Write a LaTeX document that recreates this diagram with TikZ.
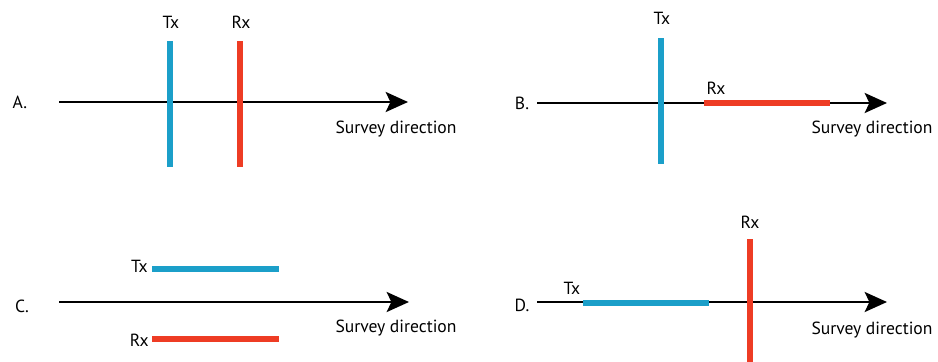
\documentclass[tikz,border=0pt]{standalone}
\usepackage{fontspec}
\setmainfont{PT Sans}
\usetikzlibrary{arrows.meta}

\definecolor{txblue}{RGB}{27,159,201}
\definecolor{rxred}{RGB}{238,60,36}

\tikzset{
  axis/.style={line width=2.4pt,-{Stealth[length=19pt,width=17pt,inset=4pt]}},
  txline/.style={txblue,line width=4.3pt},
  rxline/.style={rxred,line width=4.3pt},
  lbl/.style={inner sep=0pt,font=\fontsize{15}{18}\selectfont},
}

\begin{document}
\begin{tikzpicture}[x=0.03cm,y=-0.03cm]
\useasboundingbox (0,0) rectangle (938,362);
% A.
\node[lbl] (labA) at (20,102) {A.};
\coordinate (aS) at (59,102);
\coordinate (aE) at (408,102);
\draw[axis] (aS) -- (aE);
\coordinate (aTxT) at (170,41);
\coordinate (aTxB) at (170,167);
\coordinate (aRxT) at (240,41);
\coordinate (aRxB) at (240,167);
\draw[txline] (aTxT) -- (aTxB);
\draw[rxline] (aRxT) -- (aRxB);
\node[lbl] (aTx) at (171,22) {Tx};
\node[lbl] (aRx) at (241,22) {Rx};
\node[lbl] (aDir) at (396,129) {Survey direction};
% B.
\node[lbl] (labB) at (522,103) {B.};
\coordinate (bS) at (537,103);
\coordinate (bE) at (887,103);
\draw[axis] (bS) -- (bE);
\coordinate (bTxT) at (661,38);
\coordinate (bTxB) at (661,164);
\coordinate (bRxL) at (704,103);
\coordinate (bRxR) at (830,103);
\draw[txline] (bTxT) -- (bTxB);
\draw[rxline] (bRxL) -- (bRxR);
\node[lbl] (bTx) at (662,18) {Tx};
\node[lbl] (bRx) at (716,88) {Rx};
\node[lbl] (bDir) at (872,129) {Survey direction};
% C.
\node[lbl] (labC) at (22,306) {C.};
\coordinate (cS) at (59,302);
\coordinate (cE) at (409,302);
\draw[axis] (cS) -- (cE);
\coordinate (cTxL) at (152,269);
\coordinate (cTxR) at (279,269);
\coordinate (cRxL) at (152,339);
\coordinate (cRxR) at (279,339);
\draw[txline] (cTxL) -- (cTxR);
\draw[rxline] (cRxL) -- (cRxR);
\node[lbl,anchor=east] (cTx) at (148,266) {Tx};
\node[lbl,anchor=east] (cRx) at (149,340) {Rx};
\node[lbl] (cDir) at (396,328) {Survey direction};
% D.
\node[lbl] (labD) at (522,305) {D.};
\coordinate (dS) at (537,302);
\coordinate (dE) at (887,302);
\draw[axis] (dS) -- (dE);
\coordinate (dTxL) at (583,303);
\coordinate (dTxR) at (709,303);
\coordinate (dRxT) at (750,239);
\coordinate (dRxB) at (750,362);
\draw[txline] (dTxL) -- (dTxR);
\draw[rxline] (dRxT) -- (dRxB);
\node[lbl] (dTx) at (572,288) {Tx};
\node[lbl] (dRx) at (750,222) {Rx};
\node[lbl] (dDir) at (872,330) {Survey direction};
\end{tikzpicture}
\end{document}
